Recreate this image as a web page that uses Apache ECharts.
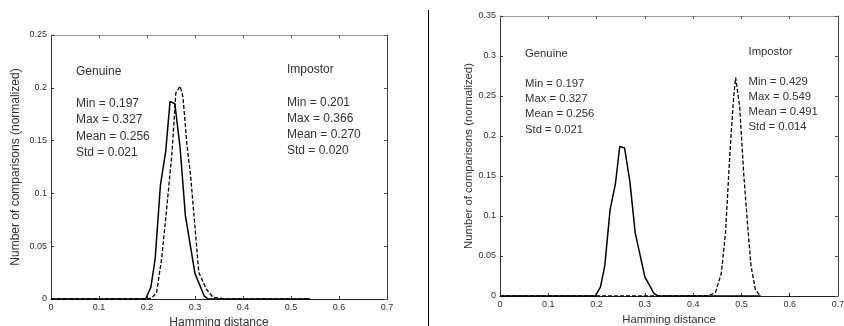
<!DOCTYPE html>
<html>
<head>
<meta charset="utf-8">
<script src="https://cdn.jsdelivr.net/npm/echarts@6/dist/echarts.min.js"></script>
<style>
html,body{margin:0;padding:0;background:#fff;}
#c{width:844px;height:326px;}
</style>
</head>
<body>
<div id="c"></div>
<script>
// ---- data ----
var genuineX = [0, 0.197, 0.208, 0.217, 0.228, 0.239, 0.248, 0.258, 0.269, 0.280, 0.300, 0.319, 0.327, 0.54];
var genuineY = [0, 0, 0.011, 0.038, 0.108, 0.140, 0.187, 0.185, 0.143, 0.079, 0.024, 0.003, 0, 0];

var impostorLeftX = [0, 0.201, 0.210, 0.220, 0.231, 0.240, 0.252, 0.260, 0.269, 0.275, 0.283, 0.291, 0.308, 0.324, 0.338, 0.350, 0.366, 0.54];
var impostorLeftY = [0, 0, 0.001, 0.006, 0.040, 0.081, 0.138, 0.195, 0.2015, 0.191, 0.147, 0.116, 0.025, 0.009, 0.0015, 0.001, 0, 0];

var impostorRightX = [0, 0.429, 0.446, 0.4585, 0.467, 0.477, 0.484, 0.488, 0.4964, 0.5047, 0.513, 0.520, 0.529, 0.539, 0.54];
var impostorRightY = [0, 0, 0.004, 0.029, 0.079, 0.187, 0.249, 0.273, 0.2365, 0.153, 0.087, 0.037, 0.008, 0, 0];

var xTicks = [0, 0.1, 0.2, 0.3, 0.4, 0.5, 0.6, 0.7];
var yMaxLeft = 0.25, yMaxRight = 0.35, yStep = 0.05;

var genuineStats = ['Min = 0.197', 'Max = 0.327', 'Mean = 0.256', 'Std = 0.021'];
var impostorLeftStats = ['Min = 0.201', 'Max = 0.366', 'Mean = 0.270', 'Std = 0.020'];
var impostorRightStats = ['Min = 0.429', 'Max = 0.549', 'Mean = 0.491', 'Std = 0.014'];
var xTitle = 'Hamming distance';
var yTitle = 'Number of comparisons (normalized)';

function pairs(xs, ys) { return xs.map(function (x, i) { return [x, ys[i]]; }); }

var FONT = 'Liberation Sans, Arial, sans-serif';
var tickColor = '#2e2e3e';

function xAxes(gi, fs, gap) {
  return [{
    type: 'value', gridIndex: gi, position: 'bottom', min: xTicks[0], max: xTicks[xTicks.length - 1], interval: 0.1,
    name: xTitle, nameLocation: 'middle', nameGap: gap,
    nameTextStyle: { color: '#333', fontSize: fs, fontFamily: FONT },
    axisLine: { show: true, lineStyle: { color: '#222', width: 1 } },
    axisTick: { show: true, inside: true, length: 3, lineStyle: { color: '#333' } },
    axisLabel: { color: tickColor, fontSize: 9, fontFamily: FONT, margin: 4 },
    splitLine: { show: false }
  }, {
    type: 'value', gridIndex: gi, position: 'top', min: 0, max: 0.7, interval: 0.1,
    axisLine: { show: true, onZero: false, lineStyle: { color: '#999', width: 1 } },
    axisTick: { show: true, inside: true, length: 3, lineStyle: { color: '#555' } },
    axisLabel: { show: false }, splitLine: { show: false }
  }];
}
function yAxes(gi, max, fs, gap) {
  return [{
    type: 'value', gridIndex: gi, position: 'left', min: 0, max: max, interval: yStep,
    name: yTitle, nameLocation: 'middle', nameGap: gap,
    nameTextStyle: { color: '#333', fontSize: fs, fontFamily: FONT },
    axisLine: { show: true, lineStyle: { color: '#333', width: 1 } },
    axisTick: { show: true, inside: true, length: 3, lineStyle: { color: '#333' } },
    axisLabel: { color: tickColor, fontSize: 9, fontFamily: FONT, margin: 4 },
    splitLine: { show: false }
  }, {
    type: 'value', gridIndex: gi, position: 'right', min: 0, max: max, interval: yStep,
    axisLine: { show: true, onZero: false, lineStyle: { color: '#444', width: 1 } },
    axisTick: { show: true, inside: true, length: 3, lineStyle: { color: '#555' } },
    axisLabel: { show: false }, splitLine: { show: false }
  }];
}

function textBlock(x, yTitleC, title, lines, y0, step, fs) {
  var els = [{ type: 'text', x: x, y: yTitleC, style: { text: title, fill: '#333', font: fs + 'px ' + FONT, verticalAlign: 'middle' } }];
  lines.forEach(function (t, i) {
    els.push({ type: 'text', x: x, y: y0 + i * step, style: { text: t, fill: '#333', font: fs + 'px ' + FONT, verticalAlign: 'middle' } });
  });
  return els;
}

var solid = { color: '#000', width: 1.5, type: 'solid' };
var dashed = { color: '#000', width: 1.3, type: [4, 2] };

var option = {
  animation: false,
  backgroundColor: '#fff',
  grid: [
    { left: 51, top: 35, width: 336, height: 264, containLabel: false, outerBoundsMode: 'none' },
    { left: 500, top: 16, width: 338, height: 280, containLabel: false, outerBoundsMode: 'none' }
  ],
  xAxis: xAxes(0, 12, 18).concat(xAxes(1, 11.3, 16)),
  yAxis: yAxes(0, yMaxLeft, 12, 29).concat(yAxes(1, yMaxRight, 11.3, 26)),
  series: [
    { type: 'line', xAxisIndex: 0, yAxisIndex: 0, data: pairs(impostorLeftX, impostorLeftY), showSymbol: false, lineStyle: dashed, z: 2 },
    { type: 'line', xAxisIndex: 0, yAxisIndex: 0, data: pairs(genuineX, genuineY), showSymbol: false, lineStyle: solid, z: 3 },
    { type: 'line', xAxisIndex: 2, yAxisIndex: 2, data: pairs(impostorRightX, impostorRightY), showSymbol: false, lineStyle: dashed, z: 2 },
    { type: 'line', xAxisIndex: 2, yAxisIndex: 2, data: pairs(genuineX, genuineY), showSymbol: false, lineStyle: solid, z: 3 }
  ],
  graphic: [
    { type: 'line', shape: { x1: 428.5, y1: 10, x2: 428.5, y2: 326 }, style: { stroke: '#000', lineWidth: 1 } }
  ].concat(
    textBlock(76, 72, 'Genuine', genuineStats, 104, 16.1, 12),
    textBlock(287, 70, 'Impostor', impostorLeftStats, 102.3, 16.2, 12),
    textBlock(525, 53.5, 'Genuine', genuineStats, 83.5, 15.3, 11.3),
    textBlock(748.5, 52, 'Impostor', impostorRightStats, 81.7, 15.2, 11.3)
  )
};

echarts.init(document.getElementById('c')).setOption(option);
</script>
</body>
</html>
